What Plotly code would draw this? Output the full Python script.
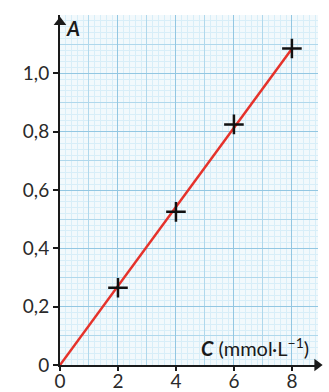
import plotly.graph_objects as go
import numpy as np

# Data
conc = [2, 4, 6, 8]                    # C (mmol/L)
absorb = [0.265, 0.525, 0.825, 1.085]  # A
x_ticks = [0, 2, 4, 6, 8]
x_labels = ["0", "2", "4", "6", "8"]
y_ticks = [0, 0.2, 0.4, 0.6, 0.8, 1.0]
y_labels = ["0", "0,2", "0,4", "0,6", "0,8", "1,0"]

# Fit through origin
cx = np.array(conc, float)
ay = np.array(absorb, float)
slope = float((cx * ay).sum() / (cx * cx).sum())
fit_x = [0, max(conc)]
fit_y = [slope * v for v in fit_x]

XMAX, YMAX = 8.9, 1.2
FONT = "Lato"
fine = "#d8eef8"
medium = "#b0d8ec"
strong = "#93c7e2"
INK = "#1a1a1a"

fig = go.Figure()
fig.add_trace(go.Scatter(x=fit_x, y=fit_y, mode="lines",
                         line=dict(color="#e5322b", width=2.5),
                         hoverinfo="skip", cliponaxis=False))
fig.add_trace(go.Scatter(x=conc, y=absorb, mode="markers",
                         marker=dict(symbol="cross-thin", size=14,
                                     line=dict(color="#111", width=2.5)),
                         cliponaxis=False))
# axis arrowheads (at the ends of the axis ranges)
fig.add_trace(go.Scatter(x=[XMAX - 0.03, 0], y=[0, YMAX - 0.025], xaxis="x2", yaxis="y2",
                         mode="markers", cliponaxis=False, hoverinfo="skip",
                         marker=dict(symbol=["triangle-right", "triangle-up"], size=11,
                                     color=INK, line=dict(width=0))))

medium_x = list(range(0, 9))
medium_y = [round(0.1 * i, 1) for i in range(0, 13)]

fig.update_layout(
    width=329, height=392,
    margin=dict(l=60, r=11, t=15, b=27, autoexpand=False),
    paper_bgcolor="white",
    plot_bgcolor="#f2f9fc",
    showlegend=False,
    font=dict(family=FONT, color="#2a2a2a", size=19),
    xaxis=dict(range=[0, XMAX], tickvals=medium_x,
               showgrid=True, gridcolor=medium, gridwidth=1, automargin=False,
               minor=dict(dtick=0.2, showgrid=True, gridcolor=fine, gridwidth=1),
               zeroline=False, showline=False, ticks="", showticklabels=False),
    yaxis=dict(range=[0, YMAX], tickvals=medium_y,
               showgrid=True, gridcolor=medium, gridwidth=1, automargin=False,
               minor=dict(dtick=0.02, showgrid=True, gridcolor=fine, gridwidth=1),
               zeroline=False, showline=False, ticks="", showticklabels=False),
    xaxis2=dict(range=[0, XMAX], overlaying="x", tickvals=x_ticks, ticktext=x_labels,
                showgrid=True, gridcolor=strong, gridwidth=1.2, automargin=False,
                zeroline=False, showline=True, linecolor=INK, linewidth=2,
                ticks="outside", ticklen=4, tickwidth=1.5, tickcolor=INK,
                ticklabelstandoff=-6,
                tickfont=dict(size=19), anchor="y2", side="bottom"),
    yaxis2=dict(range=[0, YMAX], overlaying="y", tickvals=y_ticks, ticktext=y_labels,
                showgrid=True, gridcolor=strong, gridwidth=1.2, automargin=False,
                zeroline=False, showline=True, linecolor=INK, linewidth=2,
                ticks="outside", ticklen=5, tickwidth=1.5, tickcolor=INK,
                tickfont=dict(size=19), anchor="x2", side="left"),
)
fig.add_annotation(x=0.05, y=0.962, xref="paper", yref="paper", xanchor="center", yanchor="middle",
                   text="<b><i>A</i></b>", showarrow=False,
                   font=dict(family=FONT, size=20, color=INK))
fig.add_annotation(x=0.757, y=0.052, xref="paper", yref="paper", xanchor="center", yanchor="middle",
                   text="<b><i>C</i></b> (mmol·L<sup>−1</sup>)", showarrow=False,
                   font=dict(family=FONT, size=20, color=INK))

fig.write_html("out.html", config={"displayModeBar": False},
               post_script="document.body.style.margin='0';document.body.style.padding='0';")
